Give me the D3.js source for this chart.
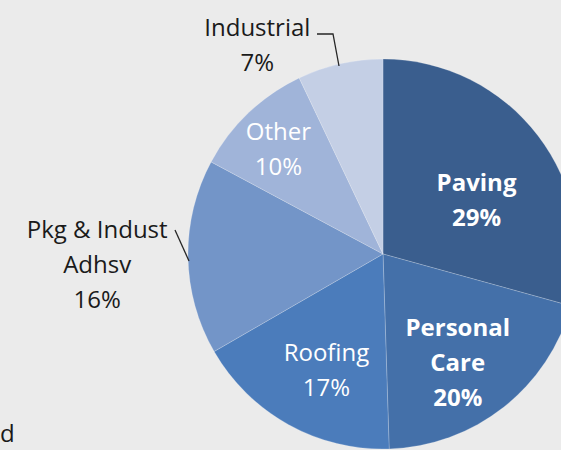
<!DOCTYPE html>
<html>
<head>
<meta charset="utf-8">
<script src="https://cdn.jsdelivr.net/npm/d3@7/dist/d3.min.js"></script>
<style>
  body { margin: 0; background: #ebebeb; }
  svg { display: block; }
</style>
</head>
<body>
<div id="chart"></div>
<script>
var width  = 561;
var height = 450;

// ------------- data -----------------
var categories = ["Paving", "Personal Care", "Roofing", "Pkg & Indust Adhsv", "Other", "Industrial"];
var shares     = [29, 20, 17, 16, 10, 7];
var labelLines = [["Paving"], ["Personal", "Care"], ["Roofing"], ["Pkg & Indust", "Adhsv"], ["Other"], ["Industrial"]];

// ------------- look -----------------
var colors   = ["#3a5e8e", "#4470a9", "#4b7cbb", "#7395c8", "#a0b4d9", "#c4cfe5"];
var txtColor = ["#ffffff", "#ffffff", "#ffffff", "#1a1a1a", "#ffffff", "#1a1a1a"];
var txtBold  = [true, true, false, false, false, false];
// label placement: angle (deg, clockwise from 12 o'clock) and distance from centre
var labelAt  = [[60, 108], [145.5, 132], [206, 129], [267.8, 286], [315, 148], [329, 244]];

var cx = 383, cy = 254, radius = 195;
var lineH = 35;
var fontFam = "'Open Sans', Lato, sans-serif";

var svg = d3.select("#chart").append("svg")
    .attr("width", width)
    .attr("height", height);

svg.append("rect")
    .attr("width", width).attr("height", height)
    .attr("fill", "#ebebeb");

var groupPie = svg.append("g")
    .attr("transform", "translate(" + cx + " " + cy + ")");

var pie = d3.pie().sort(null).value(function(d){ return d; });
var arc = d3.arc().innerRadius(0).outerRadius(radius);
var slices = pie(shares);

groupPie.selectAll("path")
    .data(slices)
    .enter()
  .append("path")
    .attr("d", arc)
    .attr("fill", function(d, i){ return colors[i]; })
    .attr("stroke", "rgba(255,255,255,0.25)")
    .attr("stroke-width", 0.8);

// ----------- leader lines ---------------
var leaders = [
  [[317, 34], [333, 34], [339, 66]],
  [[175, 230], [189, 261]]
];
svg.selectAll("path.leader")
    .data(leaders)
    .enter()
  .append("path")
    .attr("class", "leader")
    .attr("d", d3.line())
    .attr("fill", "none")
    .attr("stroke", "#262626")
    .attr("stroke-width", 1.3);

// ----------- labels ---------------
slices.forEach(function(d, i){
  var a = labelAt[i][0] * Math.PI / 180;
  var lx = cx + labelAt[i][1] * Math.sin(a);
  var ly = cy - labelAt[i][1] * Math.cos(a);
  var lines = labelLines[i].concat([shares[i] + "%"]);
  var top = ly - (lines.length - 1) * lineH / 2;
  var t = svg.append("text")
      .attr("text-anchor", "middle")
      .attr("font-family", fontFam)
      .attr("font-size", 24)
      .attr("font-weight", txtBold[i] ? "bold" : "normal")
      .attr("fill", txtColor[i]);
  lines.forEach(function(s, j){
    t.append("tspan")
      .attr("x", lx)
      .attr("y", top + j * lineH)
      .attr("dy", "0.35em")
      .text(s);
  });
});

// cut-off text at the lower left edge
svg.append("text")
    .attr("x", 0)
    .attr("y", 442)
    .attr("font-family", fontFam)
    .attr("font-size", 24)
    .attr("fill", "#1a1a1a")
    .text("d");
</script>
</body>
</html>
